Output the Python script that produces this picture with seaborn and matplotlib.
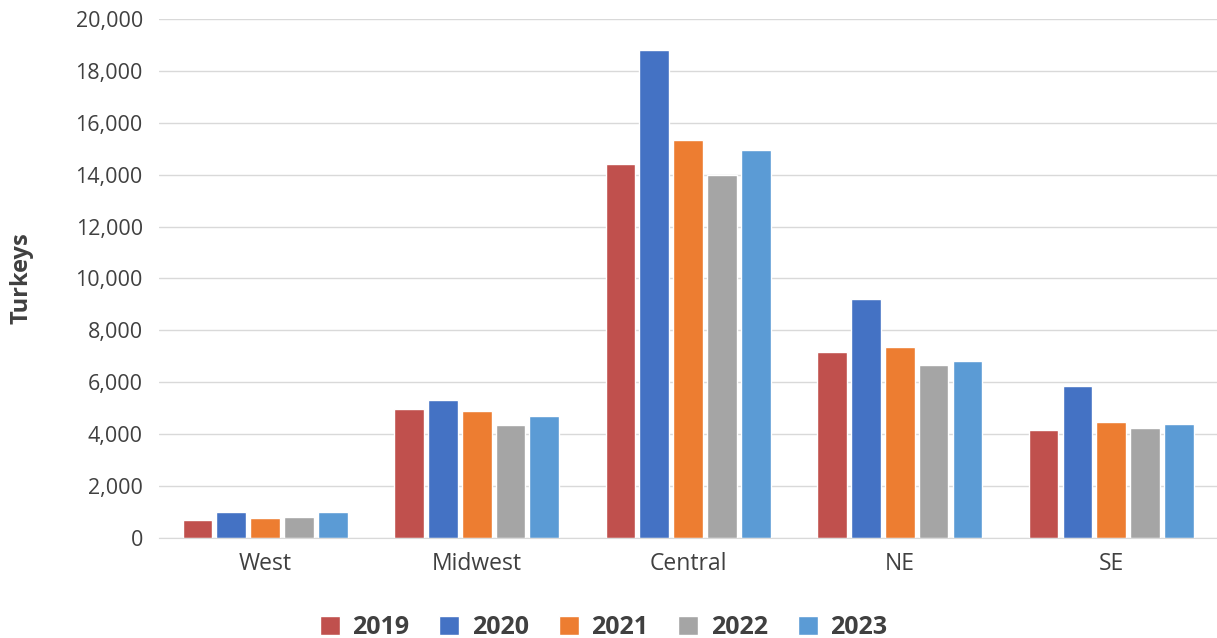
import pandas as pd
import matplotlib.pyplot as plt
import seaborn as sns

# data
regions = ["West", "Midwest", "Central", "NE", "SE"]
years = ["2019", "2020", "2021", "2022", "2023"]
v2019 = [700, 4950, 14400, 7150, 4150]
v2020 = [1000, 5300, 18800, 9200, 5850]
v2021 = [750, 4900, 15350, 7350, 4450]
v2022 = [800, 4350, 14000, 6650, 4230]
v2023 = [1000, 4700, 14950, 6800, 4400]

df = pd.DataFrame({"Region": regions, "2019": v2019, "2020": v2020,
                   "2021": v2021, "2022": v2022, "2023": v2023})
df = df.melt(id_vars="Region", var_name="Year", value_name="Turkeys")

sns.set_style("white")
plt.rcParams['font.family'] = ['Open Sans', 'DejaVu Sans']

fig = plt.figure(figsize=(12.17, 6.38), dpi=100)
ax = fig.add_axes([0.131, 0.157, 0.869, 0.813])

colors = ['#C0504D', '#4472C4', '#ED7D31', '#A5A5A5', '#5B9BD5']
sns.barplot(data=df, x="Region", y="Turkeys", hue="Year", hue_order=years,
            palette=colors, width=0.8, gap=0.12, ax=ax, saturation=1)

ax.set_ylim(0, 20000)
ax.set_yticks(range(0, 20001, 2000))
ax.set_yticklabels([f"{v:,}" for v in range(0, 20001, 2000)], fontsize=15.5, color='#404040')
ax.tick_params(axis='x', labelsize=16.5, colors='#404040', length=0, pad=10)
ax.tick_params(axis='y', length=0, pad=12)
ax.yaxis.grid(True, color='#D9D9D9', linewidth=1)
ax.set_axisbelow(True)
for s in ['top', 'right', 'left']:
    ax.spines[s].set_visible(False)
ax.spines['bottom'].set_color('#D9D9D9')
ax.set_xlabel("")
ax.set_ylabel("Turkeys", fontsize=17, fontweight='bold', color='#404040', labelpad=30)

leg = ax.legend(loc='upper center', bbox_to_anchor=(0.42, -0.105), ncol=5, frameon=False,
                prop={'size': 18, 'weight': 'bold'}, handlelength=0.8, handleheight=0.8,
                columnspacing=1.2, handletextpad=0.5)
for t in leg.get_texts():
    t.set_color('#404040')

plt.savefig("out.png", dpi=100)
